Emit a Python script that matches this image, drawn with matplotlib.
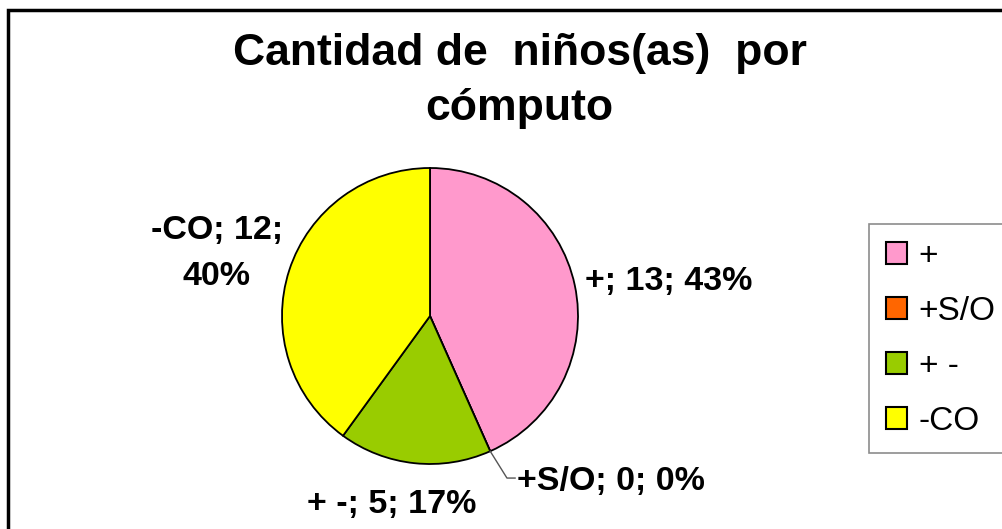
import numpy as np
import matplotlib
matplotlib.use("Agg")
import matplotlib.pyplot as plt
from matplotlib.patches import Rectangle

# ---- data ----
categories = ["+", "+S/O", "+ -", "-CO"]
values = [13, 0, 5, 12]
percents = ["43%", "0%", "17%", "40%"]
colors = ["#FF99CC", "#FF6600", "#99CC00", "#FFFF00"]
title = "Cantidad de  niños(as)  por\ncómputo"

plt.rcParams['font.family'] = ['Liberation Sans', 'DejaVu Sans']

W, H = 1003, 529
fig = plt.figure(figsize=(W / 100, H / 100), dpi=100)
fig.patch.set_facecolor("white")

# outer chart border (right/bottom run past the image edge)
fig.add_artist(Rectangle((8 / W, -0.05), 1.1, 1 - 10 / H + 0.05,
                         transform=fig.transFigure, fill=False,
                         edgecolor="black", linewidth=2.5, clip_on=False))

# pie axes: centre (430,316), radius 148 px
cx, cy, R = 430, 316, 148
ax = fig.add_axes([(cx - R) / W, (H - cy - R) / H, 2 * R / W, 2 * R / H])
wedges, _ = ax.pie(values, colors=colors, startangle=90, counterclock=False,
                   wedgeprops=dict(edgecolor="black", linewidth=1.3))
ax.set_xlim(-1, 1)
ax.set_ylim(-1, 1)
ax.set_aspect("equal")
ax.axis("off")

# label positions from wedge mid angles
total = sum(values)
angles = []
a = 90.0
for v in values:
    span = 360.0 * v / total
    angles.append(a - span / 2)
    a -= span

lfs = 24.5
labels = [f"{c}; {v}; {p}" for c, v, p in zip(categories, values, percents)]

# "+"
t = np.deg2rad(angles[0])
ax.text(1.07 * np.cos(t), 1.07 * np.sin(t) + 0.01, labels[0], ha="left", va="center",
        fontsize=lfs, fontweight="bold", clip_on=False)
# "-CO" (two lines)
t = np.deg2rad(angles[3])
ax.text(1.02 * np.cos(t) - 0.47, 1.07 * np.sin(t) + 0.09, "-CO; 12;\n40%", ha="center", va="center",
        multialignment="center", fontsize=lfs, fontweight="bold", clip_on=False, linespacing=1.62)
# "+ -"
t = np.deg2rad(angles[2])
ax.text(1.24 * np.cos(t) - 0.13, 1.24 * np.sin(t) - 0.04, labels[2], ha="center", va="center",
        fontsize=lfs, fontweight="bold", clip_on=False)
# "+S/O" with leader line
t = np.deg2rad(angles[1])
px, py = np.cos(t), np.sin(t)
ax.plot([px, 0.52, 0.575], [py, -1.095, -1.095], color="#555555", lw=1.0, clip_on=False)
ax.text(0.59, -1.12, labels[1], ha="left", va="center",
        fontsize=lfs, fontweight="bold", clip_on=False)

# title
fig.text(0.518, 1 - 33 / H, title, ha="center", va="top", multialignment="center",
         fontsize=32, fontweight="bold", linespacing=1.45)

# legend
leg = fig.legend(wedges, categories, loc="upper left",
                 bbox_to_anchor=(869 / W, 1 - 224 / H), borderaxespad=0,
                 fontsize=24, frameon=True, fancybox=False, edgecolor="#707070",
                 handlelength=0.63, handleheight=0.63, handletextpad=0.36,
                 labelspacing=0.72, borderpad=0.5)
leg.get_frame().set_linewidth(1.2)
for h in leg.legend_handles:
    h.set_edgecolor("black")
    h.set_linewidth(1.5)

fig.savefig("out.png", dpi=100)
